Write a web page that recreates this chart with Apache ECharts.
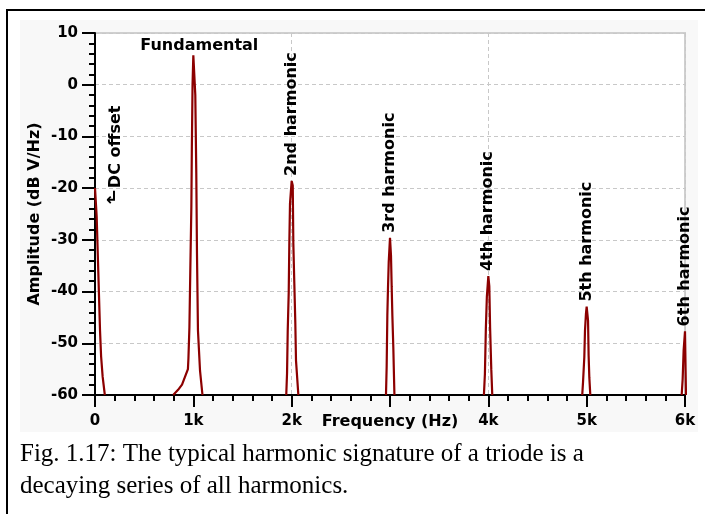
<!DOCTYPE html>
<html>
<head>
<meta charset="utf-8">
<script src="https://cdn.jsdelivr.net/npm/echarts@6/dist/echarts.min.js"></script>
<style>
  html, body { margin: 0; padding: 0; background: #fff; }
  #chart { width: 705px; height: 514px; }
</style>
</head>
<body>
<div id="chart"></div>
<script>
// Spectrum of a triode output: [frequency (Hz), amplitude (dB V/Hz)] per FFT bin
const dcBins = [[0, -20], [17, -25.5], [34, -36.5], [51, -47.5], [62, -52.5], [78, -56.5], [100, -60]];
const fundamentalBins = [[795, -60], [845, -59], [885, -58], [915, -56.5], [945, -55], [950, -53],
  [960, -47], [970, -35], [980, -23.5], [985, -12], [992, 0], [1000, 5.7], [1020, -2], [1030, -17],
  [1037, -32.5], [1047, -47.5], [1068, -55.3], [1093, -60]];
const harmonic2Bins = [[1945, -60], [1953, -55.8], [1960, -47.5], [1970, -40.2], [1976, -31],
  [1983, -23], [2000, -18.6], [2011, -19.5], [2017, -30.7], [2027, -38.4], [2037, -46], [2044, -53.3], [2068, -60]];
const harmonic3Bins = [[2959, -60], [2966, -54.6], [2973, -44.6], [2980, -39], [2987, -34.3], [3000, -29.6],
  [3010, -33], [3017, -39], [3024, -44.6], [3034, -51], [3041, -56.8], [3045, -60]];
const harmonic4Bins = [[3955, -60], [3965, -56], [3975, -47], [3985, -41], [4000, -37],
  [4010, -39], [4018, -47], [4030, -55], [4040, -60]];
const harmonic5Bins = [[4955, -60], [4963, -57.5], [4976, -52.7], [4983, -47.5], [4993, -44.2], [5000, -42.9],
  [5014, -45.6], [5020, -52.4], [5027, -56.6], [5037, -60]];
const harmonic6Bins = [[5966, -60], [5976, -57], [5986, -51.4], [6000, -47.7], [6010, -60]];

const peakNames = ['DC offset', 'Fundamental', '2nd harmonic', '3rd harmonic', '4th harmonic', '5th harmonic', '6th harmonic'];
const peakSeries = [dcBins, fundamentalBins, harmonic2Bins, harmonic3Bins, harmonic4Bins, harmonic5Bins, harmonic6Bins];

const xTickValues = [0, 1000, 2000, 3000, 4000, 5000, 6000];
const xTickLabels = ['0', '1k', '2k', '', '4k', '5k', '6k'];
const yTickValues = [-60, -50, -40, -30, -20, -10, 0, 10];

const LINE_RED = '#8c0000';
const BOLD_FONT = { fontFamily: 'DejaVu Sans', fontWeight: 'bold', color: '#000' };

function peakIndex(bins) {
  let best = 0;
  bins.forEach((p, i) => { if (p[1] > bins[best][1]) best = i; });
  return best;
}

function labelFor(name) {
  if (name === 'DC offset') {
    return Object.assign({ show: true, position: 'right', distance: 21, rotate: 90,
      align: 'left', verticalAlign: 'middle', fontSize: 16, formatter: name }, BOLD_FONT);
  }
  if (name === 'Fundamental') {
    return Object.assign({ show: true, position: 'top', distance: 1, offset: [6, 0],
      fontSize: 16, formatter: name }, BOLD_FONT);
  }
  return Object.assign({ show: true, position: 'top', distance: 5, rotate: 90,
    align: 'left', verticalAlign: 'middle', fontSize: 16, formatter: name }, BOLD_FONT);
}

const series = peakSeries.map((bins, k) => {
  const top = bins[peakIndex(bins)];
  const marks = [{ coord: top, label: labelFor(peakNames[k]) }];
  if (k === 0) {
    // small hooked arrow pointing at the DC bin
    marks.push({ coord: top, label: Object.assign({ show: true, position: 'inside', offset: [16, 10],
      fontSize: 17, formatter: '\u21B2' }, BOLD_FONT) });
  }
  return {
    type: 'line',
    name: peakNames[k],
    data: bins,
    showSymbol: false,
    symbol: 'none',
    clip: true,
    lineStyle: { color: LINE_RED, width: 2.2 },
    silent: true,
    animation: false,
    markPoint: {
      symbol: 'circle', symbolSize: 0, silent: true, animation: false,
      itemStyle: { color: 'transparent' },
      data: marks
    }
  };
});

const chart = echarts.init(document.getElementById('chart'), null, { renderer: 'canvas' });
chart.setOption({
  backgroundColor: '#fff',
  animation: false,
  grid: {
    left: 95, right: 20, top: 33, bottom: 119,
    show: true, backgroundColor: '#fff', borderColor: '#cfcfcf', borderWidth: 2
  },
  xAxis: [{
    type: 'value', min: 0, max: 6000, interval: 1000,
    name: 'Frequency (Hz)', nameLocation: 'middle', nameGap: 19, nameMoveOverlap: false,
    nameTextStyle: Object.assign({ fontSize: 16, verticalAlign: 'top' }, BOLD_FONT),
    axisLine: { show: true, onZero: false, lineStyle: { color: '#000', width: 2 } },
    axisTick: { show: true, length: 12, lineStyle: { color: '#000', width: 2 } },
    minorTick: { show: true, splitNumber: 5, length: 6, lineStyle: { color: '#000', width: 2 } },
    axisLabel: Object.assign({ fontSize: 15, margin: 19,
      formatter: v => xTickLabels[xTickValues.indexOf(v)] }, BOLD_FONT),
    splitLine: { show: false }
  }, {
    // dashed verticals every 2k
    type: 'value', min: 0, max: 6000, interval: 2000, position: 'bottom',
    axisLine: { show: false }, axisTick: { show: false }, axisLabel: { show: false },
    splitLine: { show: true, lineStyle: { color: '#c8c8c8', type: [4, 3], width: 1 } }
  }],
  yAxis: {
    type: 'value', min: -60, max: 10, interval: 10,
    name: 'Amplitude (dB V/Hz)', nameLocation: 'middle', nameGap: 52, nameRotate: 90, nameMoveOverlap: false,
    nameTextStyle: Object.assign({ fontSize: 16 }, BOLD_FONT),
    axisLine: { show: true, onZero: false, lineStyle: { color: '#000', width: 2 } },
    axisTick: { show: true, length: 13, lineStyle: { color: '#000', width: 2 } },
    minorTick: { show: true, splitNumber: 5, length: 6, lineStyle: { color: '#000', width: 2 } },
    axisLabel: Object.assign({ fontSize: 15, margin: 17,
      formatter: v => yTickValues.indexOf(v) >= 0 ? String(v) : '' }, BOLD_FONT),
    splitLine: { show: true, lineStyle: { color: '#c8c8c8', type: [4, 3], width: 1 } }
  },
  series: series,
  graphic: [
    { type: 'rect', z: -10, silent: true, shape: { x: 20, y: 20, width: 678, height: 412 },
      style: { fill: '#f8f8f8' } },
    { type: 'rect', z: 100, silent: true, shape: { x: 7, y: 10, width: 720, height: 530 },
      style: { fill: 'none', stroke: '#000', lineWidth: 2 } },
    { type: 'text', z: 100, silent: true, left: 20, top: 438,
      style: { text: 'Fig. 1.17: The typical harmonic signature of a triode is a\ndecaying series of all harmonics.',
        fontFamily: 'Liberation Serif', fontSize: 25, lineHeight: 32, fill: '#000' } }
  ]
});
</script>
</body>
</html>
